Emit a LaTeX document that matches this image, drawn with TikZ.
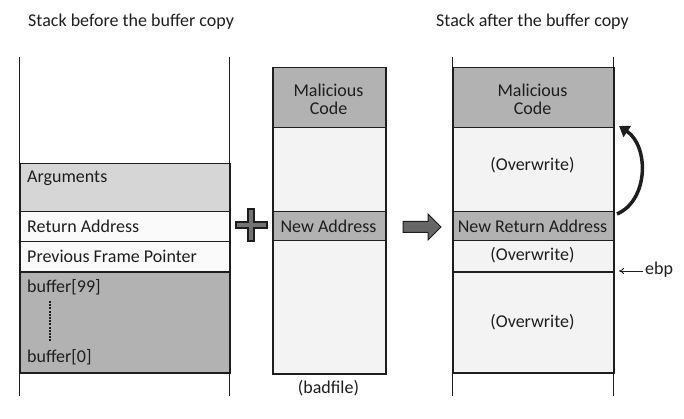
\documentclass[tikz,border=0pt]{standalone}
\usepackage{fontspec}
\setmainfont{Carlito}
\usetikzlibrary{arrows.meta}
\definecolor{darkgray}{HTML}{B2B2B2}
\definecolor{lightgray}{HTML}{D6D6D6}
\definecolor{paleg}{HTML}{F3F3F3}
\definecolor{offw}{HTML}{FAFAFA}
\definecolor{ink}{HTML}{1E1E1E}
\begin{document}
\begin{tikzpicture}[x=1pt,y=-1pt,
  every node/.style={font=\fontsize{18}{20}\selectfont, text=ink},
  cell/.style={draw=ink, line width=1.5pt, inner sep=0pt, anchor=north west},
  lbl/.style={anchor=west, inner sep=0pt},
  ctr/.style={inner sep=0pt, align=center},
  rail/.style={draw=ink, line width=0.9pt},
  curved/.style={line width=3.5pt, draw=ink, -{Triangle[length=10pt,width=13pt]}},
  thin arrow/.style={line width=0.8pt, draw=ink, -{To[length=5pt,width=6pt]}}
]
\useasboundingbox (0,0) rectangle (684,419);

% titles
\node[lbl] (t1) at (28,22) {Stack before the buffer copy};
\node[lbl] (t2) at (436,22) {Stack after the buffer copy};

% ---- left stack ----
\coordinate (l1) at (19,57); \coordinate (l2) at (19,396);
\coordinate (r1) at (229,57); \coordinate (r2) at (229,396);
\node[cell, fill=lightgray, minimum width=210pt, minimum height=48pt] (args) at (19,163) {};
\node[cell, fill=offw, minimum width=210pt, minimum height=30pt] (ret) at (19,211) {};
\node[cell, fill=offw, minimum width=210pt, minimum height=30pt] (pfp) at (19,241) {};
\node[cell, fill=darkgray, minimum width=210pt, minimum height=101pt] (buf) at (19,271) {};
\draw[rail] (l1) -- (l2);
\draw[rail] (r1) -- (r2);
\node[lbl] (largs) at (27,178) {Arguments};
\node[lbl] (lret) at (27,226) {Return Address};
\node[lbl] (lpfp) at (27,256) {Previous Frame Pointer};
\node[lbl] (lb99) at (27,287) {buffer[99]};
\node[lbl] (lb0) at (27,357) {buffer[0]};
\coordinate (d1) at (50,301); \coordinate (d2) at (50,341);
\draw[ink, line width=1.1pt, dash pattern=on 2pt off 1.2pt] (d1) -- (d2);

% plus sign
\draw[ink, fill=black!55, line width=1.2pt]
  (236,222) -- (248,222) -- (248,209) -- (254,209) -- (254,222) -- (267,222)
  -- (267,228) -- (254,228) -- (254,241) -- (248,241) -- (248,228) -- (236,228) -- cycle;

% ---- middle (badfile) ----
\node[cell, fill=darkgray, minimum width=113pt, minimum height=60pt] (mal) at (272,67) {};
\node[cell, fill=paleg, minimum width=113pt, minimum height=84pt] (mid1) at (272,127) {};
\node[cell, fill=darkgray, minimum width=113pt, minimum height=29pt] (naddr) at (272,211) {};
\node[cell, fill=paleg, minimum width=113pt, minimum height=133pt] (mid2) at (272,240) {};
\node[ctr] (lmal) at (328.5,99) {Malicious\\[-2pt]Code};
\node[ctr] (lnaddr) at (328.5,226) {New Address};
\node[ctr] (lbad) at (328.5,388) {(badfile)};

% block arrow
\draw[ink, fill=black!60, line width=1pt]
  (403,221.5) -- (428,221.5) -- (428,214) -- (441,227) -- (428,240) -- (428,232.5) -- (403,232.5) -- cycle;

% ---- right stack ----
\coordinate (rl1) at (452,57); \coordinate (rl2) at (452,396);
\coordinate (rr1) at (613,57); \coordinate (rr2) at (613,396);
\draw[rail] (rl1) -- (rl2);
\draw[rail] (rr1) -- (rr2);
\node[cell, fill=darkgray, minimum width=161pt, minimum height=60pt] (rmal) at (452,67) {};
\node[cell, fill=paleg, minimum width=161pt, minimum height=84pt] (ow1) at (452,127) {};
\node[cell, fill=darkgray, minimum width=161pt, minimum height=29pt] (nra) at (452,211) {};
\node[cell, fill=paleg, minimum width=161pt, minimum height=31pt] (ow2) at (452,240) {};
\node[cell, fill=paleg, minimum width=161pt, minimum height=101pt] (ow3) at (452,271) {};
\node[ctr] (lrmal) at (532.5,99) {Malicious\\[-2pt]Code};
\node[ctr] (low1) at (532.5,165) {(Overwrite)};
\node[ctr] (lnra) at (532.5,226) {New Return Address};
\node[ctr] (low2) at (532.5,255) {(Overwrite)};
\node[ctr] (low3) at (532.5,322) {(Overwrite)};

% curved arrow
\coordinate (cs) at (617,214);
\coordinate (ce) at (619,126);
\draw[curved] (cs) .. controls (649,200) and (649,146) .. (ce);

% ebp
\node[lbl] (ebp) at (645,270) {ebp};
\coordinate (ebpt) at (619,271);
\draw[thin arrow] (ebp.west) ++(-2,1) coordinate (ebps) -- (ebpt);
\end{tikzpicture}
\end{document}
